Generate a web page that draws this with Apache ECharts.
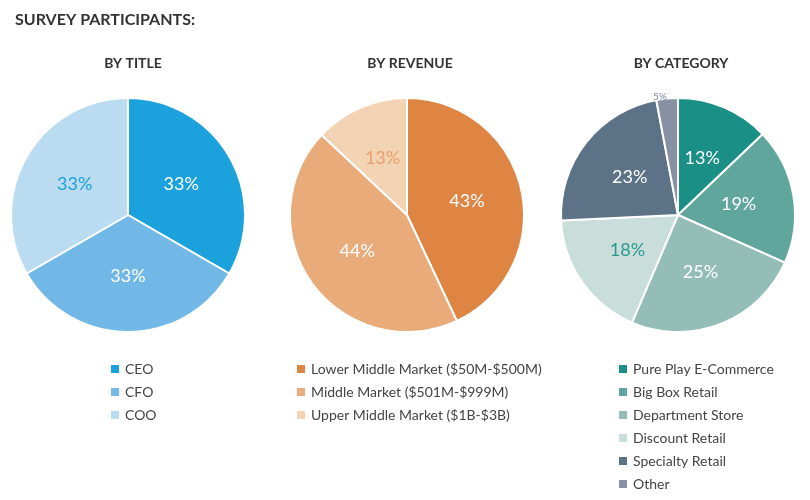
<!DOCTYPE html>
<html>
<head>
<meta charset="utf-8">
<script src="https://cdn.jsdelivr.net/npm/echarts@6/dist/echarts.min.js"></script>
<style>html,body{margin:0;padding:0;background:#fff}#main{width:810px;height:500px}</style>
</head>
<body>
<div id="main"></div>
<script>
// data
var titleNames = ['CEO', 'CFO', 'COO'];
var titleValues = [33, 33, 33];
var revenueNames = ['Lower Middle Market ($50M-$500M)', 'Middle Market ($501M-$999M)', 'Upper Middle Market ($1B-$3B)'];
var revenueValues = [43, 44, 13];
var categoryNames = ['Pure Play E-Commerce', 'Big Box Retail', 'Department Store', 'Discount Retail', 'Specialty Retail', 'Other'];
var categoryValues = [13, 19, 25, 18, 23, 3];
var categoryLabels = ['13%', '19%', '25%', '18%', '23%', '5%'];

var titleColors = ['#1BA1DB', '#72B8E7', '#BBDBF1'];
var revenueColors = ['#DE8544', '#E9AB79', '#F2D3B4'];
var categoryColors = ['#1A8F86', '#60A69D', '#94BDB8', '#C9DDDB', '#5C7286', '#8891A3'];

var font = 'Lato';
var myChart = echarts.init(document.getElementById('main'));

function makeData(names, values, colors, labelColors, labels) {
    return names.map(function (n, i) {
        return {
            name: n, value: values[i],
            itemStyle: { color: colors[i] },
            label: { color: labelColors[i], formatter: labels ? labels[i] : values[i] + '%' }
        };
    });
}

var catData = makeData(categoryNames, categoryValues, categoryColors,
    ['#fff', '#fff', '#fff', '#2A9A8F', '#fff', '#fff'], categoryLabels);
catData[5].label = { position: 'outside', formatter: '5%', fontSize: 10, color: '#7D8797', distanceToLabelLine: 0 };
catData[5].labelLine = { show: false, length: 2, length2: 0 };

function pie(center, data) {
    return {
        type: 'pie', radius: 117, center: center, startAngle: 90,
        itemStyle: { borderColor: '#fff', borderWidth: 2 },
        label: { position: 'inside', fontFamily: font, fontSize: 18 },
        labelLine: { show: false },
        data: data
    };
}

function legend(left, names) {
    return {
        left: left, top: 357, orient: 'vertical', data: names,
        icon: 'rect', itemWidth: 10, itemHeight: 10, itemGap: 9,
        textStyle: { fontFamily: font, fontSize: 14, color: '#444' }
    };
}

var option = {
    animation: false,
    title: [
        { text: 'SURVEY PARTICIPANTS:', left: 10, top: 7, textStyle: { fontFamily: font, fontSize: 16, fontWeight: 'bold', color: '#333' } },
        { text: 'BY TITLE', left: 128, top: 51, textAlign: 'center', textStyle: { fontFamily: font, fontSize: 14, fontWeight: 'bold', color: '#333' } },
        { text: 'BY REVENUE', left: 405, top: 51, textAlign: 'center', textStyle: { fontFamily: font, fontSize: 14, fontWeight: 'bold', color: '#333' } },
        { text: 'BY CATEGORY', left: 676, top: 51, textAlign: 'center', textStyle: { fontFamily: font, fontSize: 14, fontWeight: 'bold', color: '#333' } }
    ],
    legend: [
        legend(104, titleNames),
        legend(290, revenueNames),
        legend(612, categoryNames)
    ],
    series: [
        pie([128, 215], makeData(titleNames, titleValues, titleColors, ['#fff', '#fff', '#1BA1DB'])),
        pie([407, 215], makeData(revenueNames, revenueValues, revenueColors, ['#fff', '#fff', '#E9A06A'])),
        pie([678, 215], catData)
    ]
};
myChart.setOption(option);
</script>
</body>
</html>
